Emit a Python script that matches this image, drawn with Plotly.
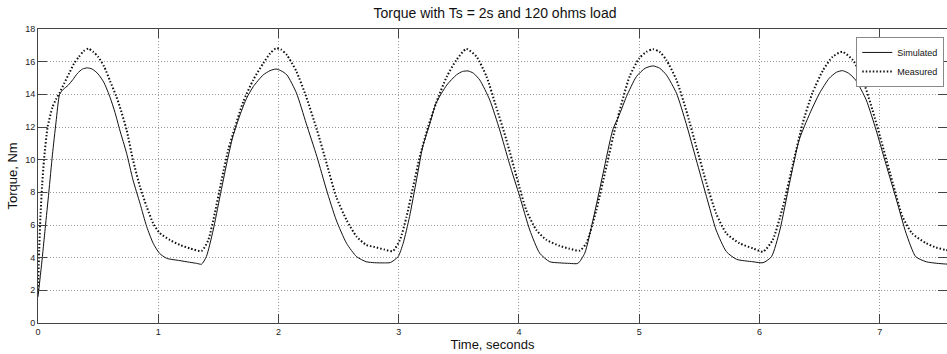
import plotly.graph_objects as go

# Simulated torque (time s, torque Nm)
sim_t = [0.00, 0.03, 0.06, 0.09, 0.12, 0.15, 0.18, 0.21, 0.25, 0.29, 0.33, 0.37, 0.41, 0.45, 0.50,
         0.55, 0.60, 0.64, 0.68, 0.737, 0.79, 0.848, 0.904, 0.958, 1.01, 1.07, 1.18, 1.26, 1.32, 1.36,
         1.40, 1.457, 1.513, 1.57, 1.62, 1.68, 1.735, 1.79, 1.873, 1.93, 1.98, 2.02, 2.07, 2.15, 2.23,
         2.32, 2.40, 2.48, 2.566, 2.65, 2.73, 2.80, 2.88, 2.93, 2.995, 3.037, 3.09, 3.148, 3.20, 3.26,
         3.31, 3.40, 3.48, 3.53, 3.577, 3.62, 3.674, 3.757, 3.84, 3.92, 4.007, 4.09, 4.173, 4.256, 4.34,
         4.42, 4.49, 4.547, 4.616, 4.70, 4.78, 4.838, 4.894, 4.977, 5.05, 5.115, 5.17, 5.226, 5.31, 5.39,
         5.475, 5.56, 5.64, 5.725, 5.81, 5.946, 6.03, 6.10, 6.17, 6.25, 6.33, 6.42, 6.50, 6.58, 6.64,
         6.69, 6.74, 6.80, 6.888, 6.97, 7.05, 7.14, 7.22, 7.30, 7.387, 7.47, 7.55, 7.60]
sim_y = [1.6, 3.6, 5.8, 8.0, 10.3, 12.3, 14.0, 14.3, 14.55, 14.9, 15.3, 15.55, 15.62, 15.55, 15.25,
         14.7, 13.8, 12.9, 11.82, 10.39, 8.76, 7.33, 5.90, 4.88, 4.27, 3.96, 3.82, 3.72, 3.65, 3.60,
         4.06, 5.69, 7.73, 9.78, 11.4, 12.74, 13.76, 14.47, 15.19, 15.45, 15.55, 15.45, 15.19, 14.07, 12.23,
         10.18, 8.14, 6.31, 4.88, 4.06, 3.75, 3.69, 3.68, 3.70, 4.06, 4.88, 6.51, 8.76, 10.8, 12.23,
         13.45, 14.57, 15.19, 15.40, 15.43, 15.30, 14.88, 13.66, 11.82, 9.78, 7.73, 5.69, 4.27, 3.75, 3.68,
         3.65, 3.65, 4.27, 6.31, 9.17, 11.82, 12.8, 13.86, 15.09, 15.60, 15.74, 15.60, 15.19, 14.07, 12.23,
         9.98, 7.73, 5.69, 4.37, 3.90, 3.75, 3.69, 4.06, 5.69, 8.55, 11.2, 12.84, 14.07, 14.98, 15.35,
         15.45, 15.30, 14.88, 13.66, 11.82, 9.78, 7.53, 5.49, 4.06, 3.75, 3.66, 3.61, 3.60]

# Measured torque (time s, torque Nm)
meas_t = [0.00, 0.01, 0.02, 0.035, 0.05, 0.08, 0.12, 0.15, 0.18, 0.22, 0.26, 0.30, 0.34, 0.38, 0.42,
          0.46, 0.50, 0.55, 0.60, 0.65, 0.68, 0.737, 0.79, 0.848, 0.904, 0.958, 1.01, 1.097, 1.18, 1.263,
          1.36, 1.416, 1.47, 1.527, 1.582, 1.64, 1.707, 1.79, 1.873, 1.93, 1.98, 2.02, 2.07, 2.15, 2.23,
          2.32, 2.40, 2.48, 2.566, 2.65, 2.73, 2.80, 2.88, 2.95, 3.01, 3.065, 3.12, 3.175, 3.245, 3.31,
          3.40, 3.48, 3.563, 3.647, 3.73, 3.81, 3.896, 3.98, 4.06, 4.145, 4.23, 4.34, 4.42, 4.505, 4.56,
          4.644, 4.727, 4.81, 4.92, 5.00, 5.06, 5.115, 5.17, 5.226, 5.31, 5.39, 5.475, 5.56, 5.64, 5.725,
          5.835, 5.946, 6.03, 6.11, 6.195, 6.28, 6.36, 6.44, 6.53, 6.61, 6.69, 6.777, 6.86, 6.94, 7.026,
          7.11, 7.19, 7.27, 7.387, 7.47, 7.55, 7.60]
meas_y = [2.0, 4.5, 6.5, 8.5, 10.0, 12.0, 13.2, 13.7, 14.1, 14.7, 15.3, 15.9, 16.3, 16.65, 16.8,
          16.6, 16.3, 15.7, 14.8, 13.9, 13.25, 11.82, 9.98, 8.35, 7.12, 6.10, 5.53, 5.08, 4.78, 4.57,
          4.41, 5.08, 6.71, 8.76, 10.6, 12.02, 13.55, 14.88, 15.9, 16.5, 16.82, 16.75, 16.41, 15.39, 13.86,
          11.82, 9.78, 7.73, 6.31, 5.29, 4.78, 4.65, 4.50, 4.40, 5.08, 6.51, 8.35, 10.18, 12.02, 13.45,
          15.09, 16.1, 16.78, 16.31, 15.09, 13.25, 11.2, 8.96, 6.92, 5.69, 5.08, 4.72, 4.55, 4.43, 4.88,
          6.92, 9.57, 12.23, 15.09, 16.2, 16.6, 16.76, 16.6, 16.1, 14.88, 13.05, 10.8, 8.55, 6.71, 5.49,
          4.88, 4.57, 4.37, 5.08, 7.12, 9.78, 12.23, 14.07, 15.49, 16.31, 16.6, 16.1, 14.88, 13.05, 10.8,
          8.55, 6.51, 5.49, 4.88, 4.62, 4.47, 4.40]

x_ticks = [0, 1, 2, 3, 4, 5, 6, 7]
y_ticks = [0, 2, 4, 6, 8, 10, 12, 14, 16, 18]

W, H = 947, 354
ML, MT, MB = 38, 29, 31

fig = go.Figure()
fig.add_trace(go.Scatter(x=sim_t, y=sim_y, mode="lines", name="Simulated",
                         line=dict(color="#111111", width=1, shape="spline", smoothing=0.6)))
fig.add_trace(go.Scatter(x=meas_t, y=meas_y, mode="lines", name="Measured",
                         line=dict(color="#111111", width=2, dash="1.5px,2px", shape="spline", smoothing=0.6)))

axis_common = dict(
    showline=True, linecolor="#444444", linewidth=1, mirror="ticks",
    ticks="inside", ticklen=9, tickcolor="#444444", tickwidth=1,
    showgrid=True, gridcolor="#9a9a9a", gridwidth=1, griddash="1px,2px",
    zeroline=False, tickfont=dict(family="Liberation Sans, Arial", size=9, color="#222222"),
)

fig.update_layout(
    width=W, height=H,
    margin=dict(l=ML, r=0, t=MT, b=MB, pad=0),
    paper_bgcolor="white", plot_bgcolor="white",
    font=dict(family="Liberation Sans, Arial", color="#111111"),
    title=dict(text="Torque with Ts = 2s and 120 ohms load", x=495 / W, xref="container",
               xanchor="center", y=1 - 13 / H, yref="container", yanchor="middle",
               font=dict(size=14, color="#111111")),
    xaxis=dict(range=[0, 7.56], tickvals=x_ticks, ticktext=[str(v) for v in x_ticks],
               title=dict(text="Time, seconds", font=dict(size=13), standoff=2), **axis_common),
    yaxis=dict(range=[0, 18], tickvals=y_ticks, ticktext=[str(v) for v in y_ticks],
               title=dict(text="Torque, Nm", font=dict(size=13), standoff=4), **axis_common),
    showlegend=True,
    legend=dict(x=0.997, xanchor="right", y=0.973, yanchor="top",
                bgcolor="white", bordercolor="#888888", borderwidth=1,
                font=dict(size=9, color="#111111"), tracegroupgap=0),
)

fig.write_html("out.html")
